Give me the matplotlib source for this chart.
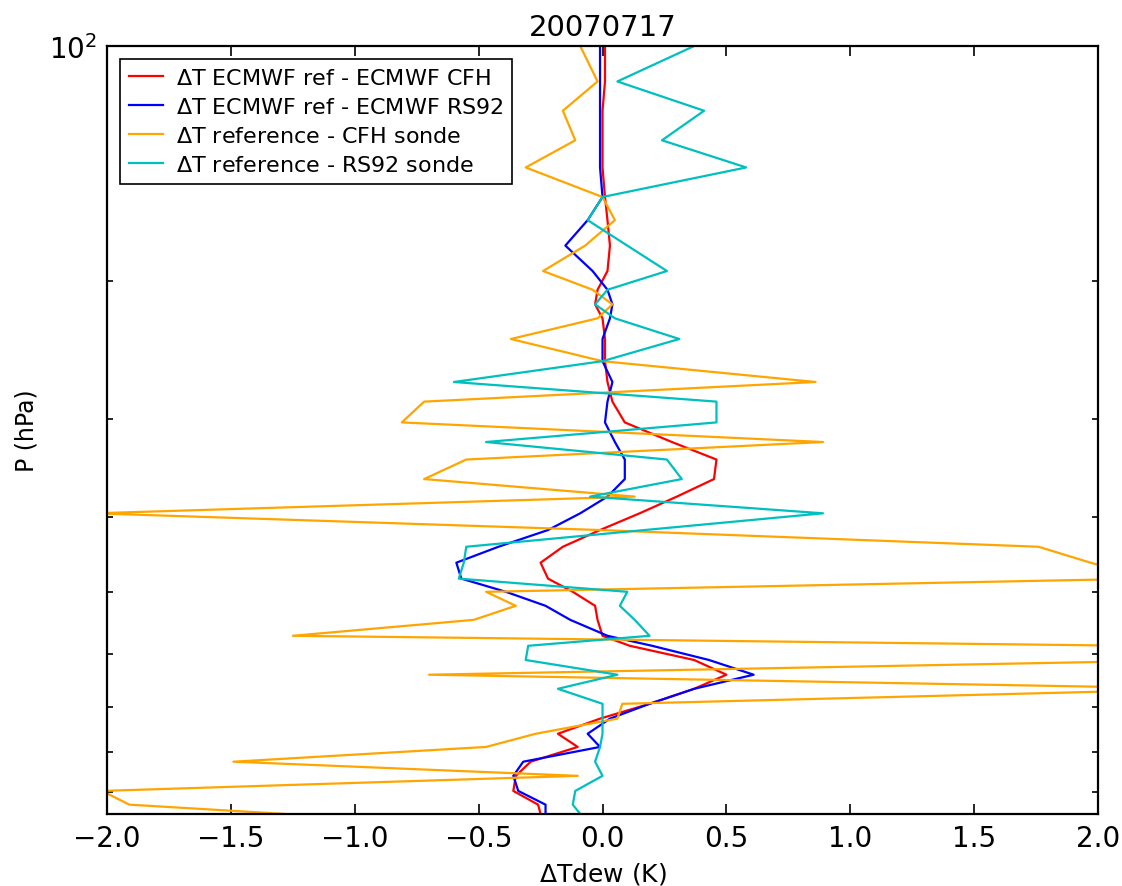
import matplotlib
matplotlib.use('Agg')
import matplotlib.pyplot as plt
from matplotlib.ticker import LogLocator, LogFormatterSciNotation, NullFormatter

# pressure levels (hPa) shared by all four profiles
pressure = [100, 111, 121, 132, 143, 156, 167, 180, 194, 205, 214, 223, 237, 253,
            269, 285, 303, 321, 338, 358, 377, 396, 416, 437, 458, 480, 499, 520,
            542, 568, 585, 610, 637, 664, 694, 725, 758, 788, 823, 858, 897, 934, 960]

# dew point differences (K)
dt_ecmwf_cfh = [0.01, 0.01, 0.0, 0.0, 0.0, 0.01, 0.02, 0.03, 0.02, -0.02, -0.03, 0.0, 0.01, 0.01,
                0.02, 0.04, 0.09, 0.28, 0.46, 0.45, 0.30, 0.15, -0.01, -0.16, -0.25, -0.22, -0.12, -0.03,
                -0.02, 0.0, 0.11, 0.37, 0.50, 0.37, 0.19, -0.01, -0.18, -0.10, -0.29, -0.35, -0.36, -0.26, -0.25]

dt_ecmwf_rs92 = [-0.01, -0.01, -0.01, -0.01, -0.01, 0.0, -0.06, -0.15, -0.04, 0.02, 0.04, 0.03, 0.0, 0.0,
                 0.04, 0.02, 0.01, 0.05, 0.09, 0.09, 0.02, -0.09, -0.22, -0.42, -0.59, -0.57, -0.39, -0.23,
                 -0.13, 0.02, 0.20, 0.43, 0.61, 0.37, 0.19, 0.03, -0.06, -0.01, -0.32, -0.36, -0.34, -0.23, -0.23]

dt_ref_cfh = [-0.09, -0.02, -0.16, -0.11, -0.31, 0.0, 0.05, -0.07, -0.24, -0.04, 0.04, -0.02, -0.37, 0.0,
              0.86, -0.72, -0.81, 0.89, -0.55, -0.72, 0.13, -2.05, -0.01, 1.76, 1.97, 2.2, -0.47, -0.35,
              -0.52, -1.25, 2.15, 2.42, -0.70, 2.47, 0.08, 0.06, -0.27, -0.47, -1.49, -0.10, -2.02, -1.91, -1.28]

dt_ref_rs92 = [0.37, 0.06, 0.41, 0.24, 0.58, 0.0, -0.06, 0.10, 0.26, 0.02, -0.03, 0.05, 0.31, 0.0,
               -0.60, 0.46, 0.46, -0.47, 0.26, 0.32, -0.05, 0.89, 0.17, -0.55, -0.56, -0.58, 0.10, 0.07,
               0.13, 0.19, -0.30, -0.31, 0.06, -0.18, 0.0, 0.0, 0.0, -0.01, -0.03, 0.0, -0.11, -0.12, -0.09]

series = [dt_ecmwf_cfh, dt_ecmwf_rs92, dt_ref_cfh, dt_ref_rs92]
labels = [r'$\Delta$T ECMWF ref - ECMWF CFH',
          r'$\Delta$T ECMWF ref - ECMWF RS92',
          r'$\Delta$T reference - CFH sonde',
          r'$\Delta$T reference - RS92 sonde']
colors = ['#ff0000', '#0000ff', '#ffa500', '#00bfbf']

plt.rcParams['mathtext.default'] = 'regular'

fig = plt.figure(figsize=(11.22, 8.87), dpi=100)
ax = fig.add_axes([0.0954, 0.0812, 0.8832, 0.8658])

for vals, lab, col in zip(series, labels, colors):
    ax.plot(vals, pressure, color=col, lw=1.6, label=lab)

ax.set_yscale('log')
ax.set_ylim(960, 100)
ax.set_xlim(-2, 2)
ax.set_xticks([-2.0, -1.5, -1.0, -0.5, 0.0, 0.5, 1.0, 1.5, 2.0])
ax.set_xticklabels(['\u22122.0', '\u22121.5', '\u22121.0', '\u22120.5', '0.0', '0.5', '1.0', '1.5', '2.0'])
ax.yaxis.set_major_locator(LogLocator(base=10))
ax.yaxis.set_major_formatter(LogFormatterSciNotation())
ax.yaxis.set_minor_locator(LogLocator(base=10, subs=range(2, 10)))
ax.yaxis.set_minor_formatter(NullFormatter())

ax.tick_params(which='both', direction='in', top=True, right=True, width=1.2)
ax.tick_params(which='major', length=7, labelsize=20, pad=7)
ax.tick_params(which='minor', length=4)
for sp in ax.spines.values():
    sp.set_linewidth(1.6)

ax.set_title('20070717', fontsize=21, pad=8)
ax.set_xlabel(r'$\Delta$Tdew (K)', fontsize=18, labelpad=6)
ax.set_ylabel('P (hPa)', fontsize=17, labelpad=8)

leg = ax.legend(loc='upper left', fontsize=16, labelspacing=0.4, handlelength=1.5,
                handletextpad=0.6, borderpad=0.4, borderaxespad=0.6, fancybox=False,
                framealpha=1, edgecolor='black')
leg.get_frame().set_linewidth(1.2)

fig.savefig('out.png', dpi=100, facecolor='white')
